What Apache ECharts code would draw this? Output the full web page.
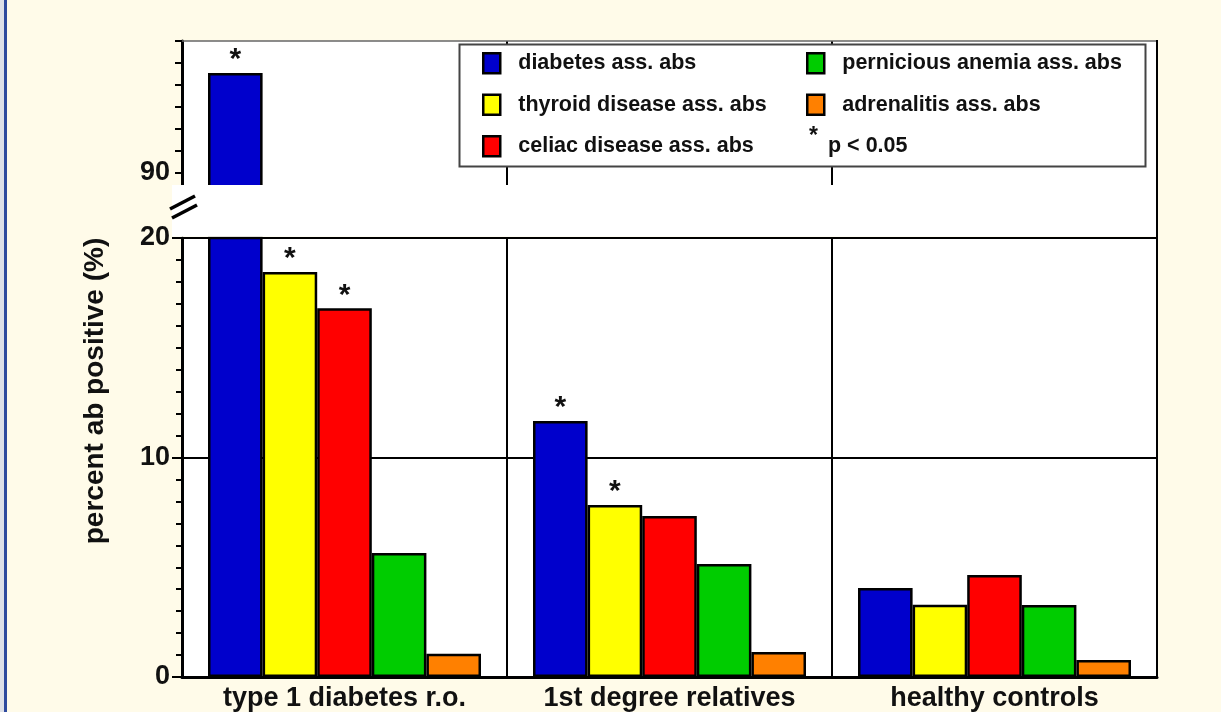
<!DOCTYPE html>
<html>
<head>
<meta charset="utf-8">
<script src="https://cdn.jsdelivr.net/npm/echarts@6/dist/echarts.min.js"></script>
<style>
  html, body {margin: 0; padding: 0; background: #FFFBE9;}
  #chart {width: 1221px; height: 712px;}
</style>
</head>
<body>
<div id="chart"></div>
<script>
const categories = ['type 1 diabetes r.o.', '1st degree relatives', 'healthy controls']
const seriesNames = ['diabetes ass. abs', 'thyroid disease ass. abs', 'celiac disease ass. abs', 'pernicious anemia ass. abs', 'adrenalitis ass. abs']
const diabetesAbs = [94.55, 11.66, 4.05]
const thyroidAbs = [18.45, 7.84, 3.29]
const celiacAbs = [16.8, 7.33, 4.65]
const perniciousAbs = [5.65, 5.15, 3.28]
const adrenalitisAbs = [1.06, 1.14, 0.77]
// significance marks (* p < 0.05)
const diabetesStar = [true, true, false]
const thyroidStar = [true, true, false]
const celiacStar = [true, false, false]
const perniciousStar = [false, false, false]
const adrenalitisStar = [false, false, false]
const upperTicks = [89, 96]   // broken axis, upper part
const lowerTicks = [0, 20]    // lower part

const colors = ['#0000CC', '#FFFF00', '#FF0000', '#00CC00', '#FF8000']
const values = [diabetesAbs, thyroidAbs, celiacAbs, perniciousAbs, adrenalitisAbs]
const stars = [diabetesStar, thyroidStar, celiacStar, perniciousStar, adrenalitisStar]

const chart = echarts.init(document.getElementById('chart'))

const boldText = {fontFamily: 'Liberation Sans, Arial, sans-serif', fontWeight: 'bold', color: '#111'}

const makeData = (vals, flags, inPane) => vals.map((v, i) => ({
  value: v,
  label: {show: flags[i] && inPane(v)}
}))

const series = []
seriesNames.forEach((name, k) => {
  const base = {
    name,
    type: 'bar',
    barGap: 0,
    barCategoryGap: '16%',
    itemStyle: {color: colors[k], borderColor: '#000', borderWidth: 2.5},
    label: {position: 'top', distance: -2, formatter: '*', fontSize: 30, ...boldText}
  }
  series.push({...base, xAxisIndex: 0, yAxisIndex: 0,
    data: makeData(values[k], stars[k], v => v > upperTicks[0])})
  series.push({...base, xAxisIndex: 1, yAxisIndex: 1,
    data: makeData(values[k], stars[k], v => v <= lowerTicks[1])})
})

const legendBase = {
  orient: 'vertical',
  top: 52,
  padding: 0,
  itemGap: 19,
  icon: 'rect',
  itemWidth: 17,
  itemHeight: 20,
  z: 60,
  itemStyle: {borderColor: '#000', borderWidth: 2.5},
  textStyle: {...boldText, fontSize: 21.5, padding: [0, 0, 0, 13]}
}

const option = {
  backgroundColor: '#FFFBE9',
  animation: false,
  grid: [
    {left: 182, right: 64, top: 41, height: 154, show: true, backgroundColor: '#fff', borderWidth: 0},
    {left: 182, right: 64, top: 238, bottom: 35, show: true, backgroundColor: '#fff', borderWidth: 0}
  ],
  xAxis: [
    {
      type: 'category', gridIndex: 0, data: categories,
      axisLine: {show: false}, axisTick: {show: false}, axisLabel: {show: false},
      splitLine: {show: true, interval: 0, lineStyle: {color: '#000', width: 2}}
    },
    {
      type: 'category', gridIndex: 1, data: categories,
      axisLine: {lineStyle: {color: '#000', width: 3}},
      axisTick: {show: false},
      axisLabel: {...boldText, fontSize: 27, margin: 8, interval: 0, hideOverlap: false},
      splitLine: {show: true, interval: 0, lineStyle: {color: '#000', width: 2}}
    }
  ],
  yAxis: [
    {
      type: 'value', gridIndex: 0, min: upperTicks[0], max: upperTicks[1], interval: 1,
      axisLine: {show: true, lineStyle: {color: '#000', width: 3}},
      axisTick: {show: true, length: 7, lineStyle: {color: '#000', width: 2}},
      axisLabel: {...boldText, fontSize: 27, margin: 12, formatter: v => (v === 90 ? '90' : '')},
      splitLine: {show: false}
    },
    {
      type: 'value', gridIndex: 1, min: lowerTicks[0], max: lowerTicks[1], interval: 10,
      axisLine: {show: true, lineStyle: {color: '#000', width: 3}},
      axisTick: {show: true, length: 10, lineStyle: {color: '#000', width: 2}},
      minorTick: {show: true, splitNumber: 10, length: 6, lineStyle: {color: '#000', width: 2}},
      axisLabel: {...boldText, fontSize: 27, margin: 12},
      splitLine: {show: true, lineStyle: {color: '#000', width: 2}}
    }
  ],
  legend: [
    {...legendBase, left: 482, data: seriesNames.slice(0, 3)},
    {...legendBase, left: 806, data: seriesNames.slice(3)}
  ],
  graphic: [
    // left page strip
    {type: 'rect', shape: {x: 0, y: 0, width: 4, height: 712}, style: {fill: '#DDE0E8'}},
    {type: 'rect', shape: {x: 4, y: 0, width: 3, height: 712}, style: {fill: '#2E4A9E'}},
    // axis break
    {type: 'rect', z: 50, shape: {x: 172, y: 185, width: 984, height: 51.5}, style: {fill: '#fff'}},
    {type: 'line', z: 55, shape: {x1: 170, y1: 209, x2: 195, y2: 196}, style: {stroke: '#000', lineWidth: 3.5}},
    {type: 'line', z: 55, shape: {x1: 172, y1: 218, x2: 197, y2: 205}, style: {stroke: '#000', lineWidth: 3.5}},
    // frame
    {type: 'line', z: 55, shape: {x1: 182, y1: 41, x2: 1157, y2: 41}, style: {stroke: '#666', lineWidth: 1.5}},
    {type: 'line', z: 55, shape: {x1: 1157, y1: 40, x2: 1157, y2: 677}, style: {stroke: '#000', lineWidth: 2}},
    // legend box
    {type: 'rect', z: 56, shape: {x: 459.5, y: 44.5, width: 686, height: 122}, style: {fill: '#fff', stroke: '#444', lineWidth: 2}},
    {type: 'text', z: 60, x: 809, y: 125, style: {text: '*', ...boldText, fill: '#111', fontSize: 23}},
    {type: 'text', z: 60, x: 828, y: 146, style: {text: 'p < 0.05', ...boldText, fill: '#111', fontSize: 21.5, verticalAlign: 'middle'}},
    // y axis title
    {
      type: 'text', z: 60, x: 95, y: 391, rotation: Math.PI / 2,
      style: {text: 'percent ab positive (%)', ...boldText, fill: '#111', fontSize: 28, align: 'center', verticalAlign: 'middle'}
    }
  ],
  series
}

chart.setOption(option)
</script>
</body>
</html>
